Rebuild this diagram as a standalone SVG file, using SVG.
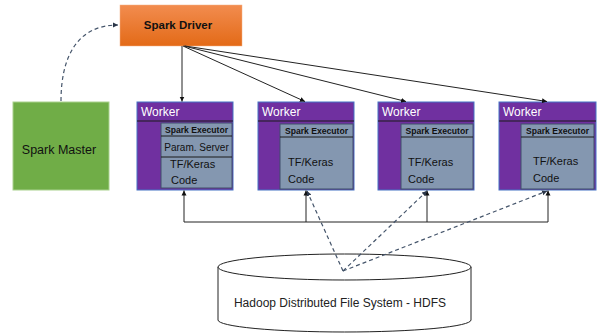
<svg xmlns="http://www.w3.org/2000/svg" width="600" height="333" viewBox="0 0 600 333">
<style>
text{font-family:"Liberation Sans",Arial,sans-serif}
.wk{fill:#7030a0;stroke:#4472c4;stroke-width:1}
.sep{stroke:#1a1a1a;stroke-width:1}
.in{fill:#8497b0;stroke:#3f4f6b;stroke-width:1}
.wt{fill:#ffffff;font-size:12px}
.ex{fill:#111;font-size:8.6px;font-weight:bold}
.ct{fill:#111;font-size:11px}
.solid{fill:none;stroke:#222;stroke-width:1}
.dash{fill:none;stroke:#44546a;stroke-width:1.2;stroke-dasharray:4 3}
</style>
<defs>
<linearGradient id="og" x1="0" y1="0" x2="0" y2="1">
<stop offset="0" stop-color="#f28c4f"/>
<stop offset="1" stop-color="#e36a17"/>
</linearGradient>
<marker id="ah" markerWidth="6" markerHeight="6" refX="5" refY="3" orient="auto" markerUnits="userSpaceOnUse">
<path d="M0,0.5 L5,3 L0,5.5 Z" fill="#111"/>
</marker>
<marker id="ahd" markerWidth="6" markerHeight="6" refX="5" refY="3" orient="auto" markerUnits="userSpaceOnUse">
<path d="M0,0.5 L5,3 L0,5.5 Z" fill="#2b3648"/>
</marker>
</defs>

<g id="hdfs">
<path d="M218,267 L218,320 A126.5,12 0 0 0 471,320 L471,267" fill="#fff" stroke="#222" stroke-width="1"/>
<ellipse cx="344.5" cy="267" rx="126.5" ry="13" fill="#fff" stroke="#222" stroke-width="1"/>
<text x="340" y="307" text-anchor="middle" font-size="12" fill="#222">Hadoop Distributed File System - HDFS</text>
</g>

<g id="driver">
<rect x="120" y="5" width="122" height="41" fill="url(#og)" stroke="#f4b183" stroke-width="0.5"/>
<text x="178" y="29" text-anchor="middle" font-size="11.5" font-weight="bold" fill="#111">Spark Driver</text>
</g>

<g id="master">
<rect x="13" y="102" width="96" height="88" fill="#70ad47" stroke="#a9d18e" stroke-width="1"/>
<text x="59" y="154" text-anchor="middle" font-size="12.5" fill="#111">Spark Master</text>
</g>

<g id="worker1">
<rect class="wk" x="137" y="102" width="96" height="88"/>
<line class="sep" x1="137" y1="121" x2="233" y2="121"/>
<text class="wt" x="141" y="116">Worker</text>
<rect class="in" x="161" y="123" width="71" height="65"/>
<line class="sep" x1="161" y1="136" x2="232" y2="136"/>
<line class="sep" x1="161" y1="157" x2="232" y2="157"/>
<text class="ex" x="196.5" y="133" text-anchor="middle">Spark Executor</text>
<text x="196.5" y="151" text-anchor="middle" font-size="10" fill="#111">Param. Server</text>
<text class="ct" x="170" y="168">TF/Keras</text>
<text class="ct" x="171" y="184">Code</text>
</g>

<g id="worker2">
<rect class="wk" x="258" y="102" width="96" height="88"/>
<line class="sep" x1="258" y1="121" x2="354" y2="121"/>
<text class="wt" x="262" y="116">Worker</text>
<rect class="in" x="280" y="124" width="73" height="65"/>
<line class="sep" x1="280" y1="137" x2="353" y2="137"/>
<text class="ex" x="316.5" y="134" text-anchor="middle">Spark Executor</text>
<text class="ct" x="288" y="166">TF/Keras</text>
<text class="ct" x="288" y="183">Code</text>
</g>

<g id="worker3">
<rect class="wk" x="378" y="102" width="96" height="88"/>
<line class="sep" x1="378" y1="121" x2="474" y2="121"/>
<text class="wt" x="382" y="116">Worker</text>
<rect class="in" x="401" y="124" width="72" height="65"/>
<line class="sep" x1="401" y1="137" x2="473" y2="137"/>
<text class="ex" x="437" y="134" text-anchor="middle">Spark Executor</text>
<text class="ct" x="408" y="166">TF/Keras</text>
<text class="ct" x="408" y="183">Code</text>
</g>

<g id="worker4">
<rect class="wk" x="499" y="102" width="97" height="88"/>
<line class="sep" x1="499" y1="121" x2="596" y2="121"/>
<text class="wt" x="503" y="116">Worker</text>
<rect class="in" x="521" y="124" width="73" height="65"/>
<line class="sep" x1="521" y1="137" x2="594" y2="137"/>
<text class="ex" x="557.5" y="134" text-anchor="middle">Spark Executor</text>
<text class="ct" x="533" y="165">TF/Keras</text>
<text class="ct" x="533" y="182">Code</text>
</g>

<g id="connectors">
<path class="dash" d="M61,101 C61,60 75,25 118,25" stroke="#2b3648" marker-end="url(#ahd)"/>
<line class="solid" x1="182" y1="46" x2="182" y2="101.5" marker-end="url(#ah)"/>
<line class="solid" x1="183" y1="46" x2="305" y2="101.5" marker-end="url(#ah)"/>
<line class="solid" x1="184" y1="46" x2="406" y2="101.5" marker-end="url(#ah)"/>
<line class="solid" x1="185" y1="46" x2="547" y2="101.5" marker-end="url(#ah)"/>
<polyline class="solid" points="184,222 548,222"/>
<line class="solid" x1="184" y1="222" x2="184" y2="190.5" marker-end="url(#ah)"/>
<line class="solid" x1="306" y1="222" x2="306" y2="190.5" marker-end="url(#ah)"/>
<line class="solid" x1="427" y1="222" x2="427" y2="190.5" marker-end="url(#ah)"/>
<line class="solid" x1="548" y1="222" x2="548" y2="190.5" marker-end="url(#ah)"/>
<line class="dash" x1="343" y1="271" x2="307" y2="191" marker-end="url(#ahd)"/>
<line class="dash" x1="343" y1="271" x2="427" y2="191" marker-end="url(#ahd)"/>
<line class="dash" x1="343" y1="271" x2="547" y2="191" marker-end="url(#ahd)"/>
</g>
</svg>
